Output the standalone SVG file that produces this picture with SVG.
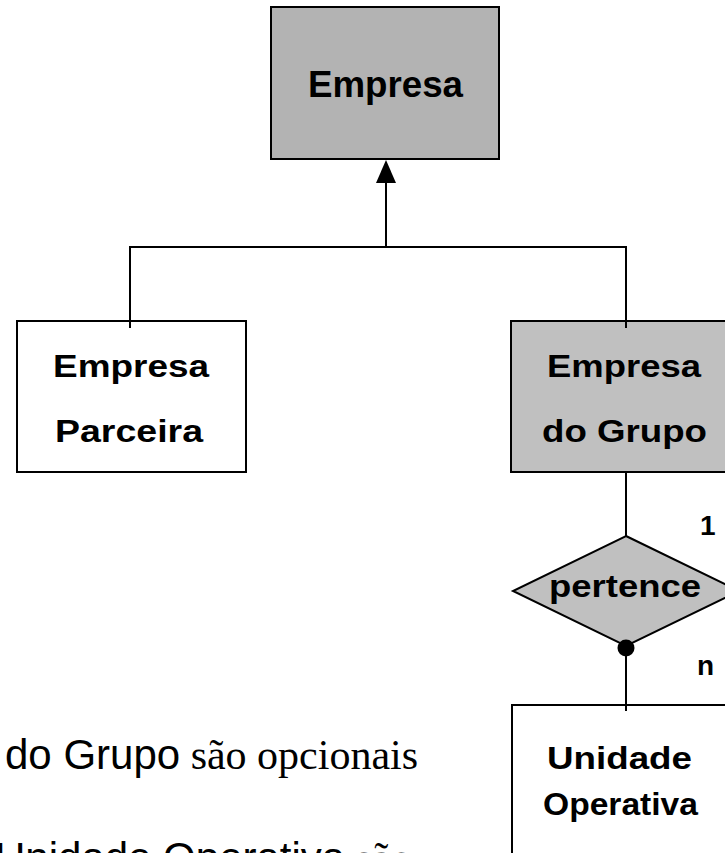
<svg xmlns="http://www.w3.org/2000/svg" width="725" height="853" viewBox="0 0 725 853">
<style>
.box{stroke:#000;stroke-width:2}
.lbl{font-family:"Liberation Sans",Arial,sans-serif;font-weight:bold;fill:#000}
.ln{fill:none;stroke:#000;stroke-width:2}
.note{font-family:"Liberation Sans",Arial,sans-serif;font-size:42px;fill:#000}
.serif{font-family:"Liberation Serif","Times New Roman",serif}
</style>
<rect width="725" height="853" fill="#fff"/>
<g id="empresa">
<rect class="box" x="271" y="7" width="228" height="152" fill="#b3b3b3"/>
<text class="lbl" x="308" y="97" font-size="36" textLength="155" lengthAdjust="spacingAndGlyphs">Empresa</text>
</g>
<g id="empresa-parceira">
<rect class="box" x="17" y="321" width="229" height="151" fill="#fff"/>
<text class="lbl" x="53" y="377" font-size="32" textLength="156" lengthAdjust="spacingAndGlyphs">Empresa</text>
<text class="lbl" x="55" y="442" font-size="32" textLength="148" lengthAdjust="spacingAndGlyphs">Parceira</text>
</g>
<g id="empresa-do-grupo">
<rect class="box" x="511" y="321" width="230" height="151" fill="#c0c0c0"/>
<text class="lbl" x="547" y="377" font-size="32" textLength="154" lengthAdjust="spacingAndGlyphs">Empresa</text>
<text class="lbl" x="542" y="442" font-size="32" textLength="165" lengthAdjust="spacingAndGlyphs">do Grupo</text>
</g>
<g id="pertence">
<polygon class="box" points="626,536 739,591 626,646 513,591" fill="#c0c0c0"/>
<text class="lbl" x="549" y="597" font-size="32" textLength="152" lengthAdjust="spacingAndGlyphs">pertence</text>
</g>
<g id="unidade-operativa">
<rect class="box" x="512" y="705" width="230" height="200" fill="#fff"/>
<text class="lbl" x="547" y="769" font-size="31" textLength="145" lengthAdjust="spacingAndGlyphs">Unidade</text>
<text class="lbl" x="543" y="815" font-size="31" textLength="155" lengthAdjust="spacingAndGlyphs">Operativa</text>
</g>
<g id="connectors">
<polyline class="ln" points="130,328 130,247 626,247 626,328"/>
<line class="ln" x1="386" y1="247" x2="386" y2="180"/>
<polygon points="386,160 376,183 396,183" fill="#000"/>
<line class="ln" x1="626" y1="472" x2="626" y2="536"/>
<line class="ln" x1="626" y1="646" x2="626" y2="711"/>
<circle cx="626" cy="648" r="8.5" fill="#000"/>
<text class="lbl" x="700" y="535" font-size="28">1</text>
<text class="lbl" x="697" y="675" font-size="28">n</text>
</g>
<g id="notes">
<text class="note" x="5" y="769">do Grupo<tspan class="serif"> são opcionais</tspan></text>
<text class="note" x="-5" y="872">Unidade Operativa<tspan class="serif"> são</tspan></text>
</g>
</svg>
